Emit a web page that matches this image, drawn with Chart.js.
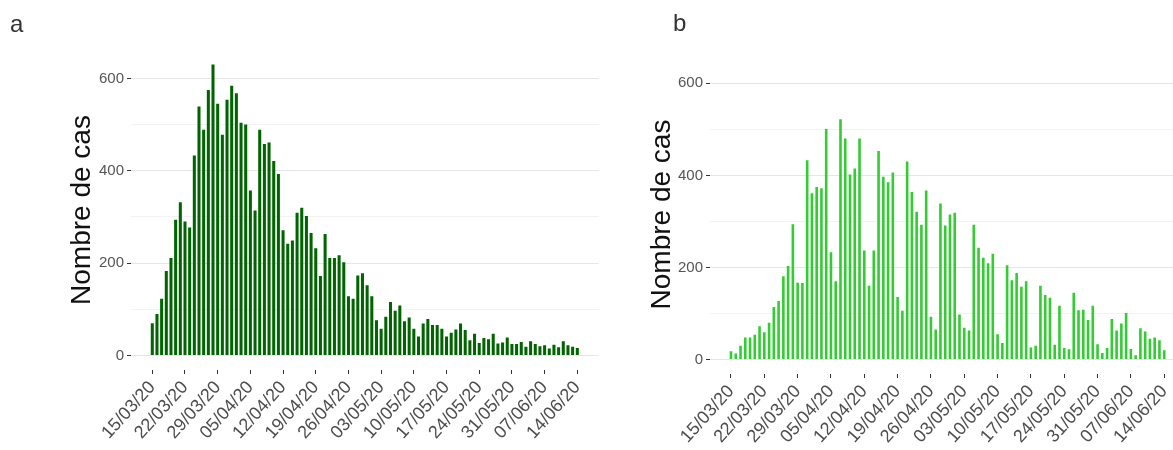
<!DOCTYPE html>
<html>
<head>
<meta charset="utf-8">
<script src="https://cdn.jsdelivr.net/npm/chart.js@4.4.1/dist/chart.umd.min.js"></script>
<style>
html, body { margin: 0; padding: 0; background: #fff; width: 1173px; height: 450px; overflow: hidden; }
.panel { position: absolute; top: 0; }
.tag { position: absolute; font: 24px 'Liberation Sans', Arial, sans-serif; color: #333; line-height: 1; z-index: 2; }
</style>
</head>
<body>
<canvas id="chartA" class="panel" width="620" height="450" style="left:0"></canvas>
<canvas id="chartB" class="panel" width="620" height="450" style="left:600px"></canvas>
<div class="tag" style="left:10px; top:12px;">a</div>
<div class="tag" style="left:673px; top:11px;">b</div>
<script>
// Daily cases, 15/03/20 -> 14/06/20 (one value per day)
const tickLabels = ['15/03/20', '22/03/20', '29/03/20', '05/04/20', '12/04/20', '19/04/20', '26/04/20',
    '03/05/20', '10/05/20', '17/05/20', '24/05/20', '31/05/20', '07/06/20', '14/06/20'];

const casesA = [70, 90, 123, 183, 211, 294, 332, 290, 277, 433,
    539, 489, 575, 630, 545, 478, 554, 584, 568, 504,
    500, 357, 314, 489, 458, 461, 421, 393, 271, 242,
    249, 309, 320, 302, 265, 232, 172, 263, 211, 211,
    217, 202, 128, 123, 173, 178, 152, 128, 76, 58,
    84, 116, 97, 108, 74, 82, 58, 41, 69, 79,
    66, 66, 58, 41, 49, 56, 69, 55, 33, 47,
    27, 38, 35, 47, 26, 28, 39, 25, 25, 29,
    19, 31, 25, 20, 22, 15, 23, 18, 31, 22, 19, 16];

const casesB = [18, 13, 30, 48, 48, 54, 72, 59, 80, 114,
    127, 181, 203, 294, 167, 166, 433, 361, 375, 372,
    501, 233, 170, 522, 480, 402, 415, 480, 237, 160,
    237, 453, 397, 385, 406, 136, 106, 430, 364, 321,
    293, 367, 93, 65, 339, 291, 315, 319, 98, 69,
    63, 293, 243, 221, 209, 230, 55, 36, 205, 172,
    188, 158, 170, 26, 30, 160, 140, 134, 32, 117,
    25, 22, 145, 107, 108, 86, 117, 33, 14, 25,
    88, 63, 78, 101, 23, 9, 68, 61, 45, 48, 42, 20];

const yTicks = [0, 100, 200, 300, 400, 500, 600];
const yLabelled = [0, 200, 400, 600];

const FONT = "'Liberation Sans', Arial, sans-serif";

const isMajor = ctx => ctx.tick && yLabelled.includes(ctx.tick.value);

function makePanel(id, values, color, lay) {
    return new Chart(document.getElementById(id), {
        type: 'bar',
        data: {
            datasets: [{
                data: values.map((v, i) => ({ x: i, y: v })),
                backgroundColor: color,
                borderWidth: 0,
                barPercentage: lay.bar,
                categoryPercentage: 1
            }]
        },
        options: {
            responsive: false,
            animation: false,
            devicePixelRatio: 1,
            layout: { padding: { top: lay.top, right: lay.right, left: 0, bottom: 0 } },
            plugins: { legend: { display: false }, tooltip: { enabled: false } },
            scales: {
                x: {
                    type: 'linear',
                    min: lay.xMin,
                    max: lay.xMax,
                    offset: false,
                    afterBuildTicks: s => { s.ticks = tickLabels.map((_, k) => ({ value: k * 7 })); },
                    afterFit: s => { s.height = lay.xHeight; },
                    ticks: {
                        autoSkip: false,
                        maxRotation: 48,
                        minRotation: 48,
                        padding: 3,
                        color: '#4d4d4d',
                        font: { family: FONT, size: 18 },
                        callback: v => tickLabels[v / 7]
                    },
                    grid: { offset: false, drawOnChartArea: false, tickLength: 4, tickColor: '#333', color: '#333' },
                    border: { display: false }
                },
                y: {
                    min: -31.5,
                    max: 661.5,
                    afterBuildTicks: s => { s.ticks = yTicks.map(v => ({ value: v })); },
                    afterFit: s => { s.width = lay.yWidth; },
                    ticks: {
                        padding: 3,
                        color: '#555',
                        font: { family: FONT, size: 15 },
                        callback: v => yLabelled.includes(v) ? String(v) : ''
                    },
                    grid: {
                        color: c => isMajor(c) ? '#e6e6e6' : '#f2f2f2',
                        tickColor: c => isMajor(c) ? '#333' : 'rgba(0,0,0,0)',
                        tickLength: 4
                    },
                    border: { display: false },
                    title: {
                        display: true,
                        text: 'Nombre de cas',
                        color: '#111',
                        font: { family: FONT, size: 28 },
                        padding: { top: lay.titlePad, bottom: 0 }
                    }
                }
            }
        }
    });
}

makePanel('chartA', casesA, '#006400', {
    top: 50, right: 21.4, xHeight: 80, yWidth: 131,
    xMin: -4.56, xMax: 95.56, bar: 0.65, titlePad: 65
});

makePanel('chartB', casesB, '#33cc33', {
    top: 55, right: 34.8, xHeight: 76, yWidth: 110,
    xMin: -4.41, xMax: 95.41, bar: 0.55, titlePad: 45.7
});
</script>
</body>
</html>
